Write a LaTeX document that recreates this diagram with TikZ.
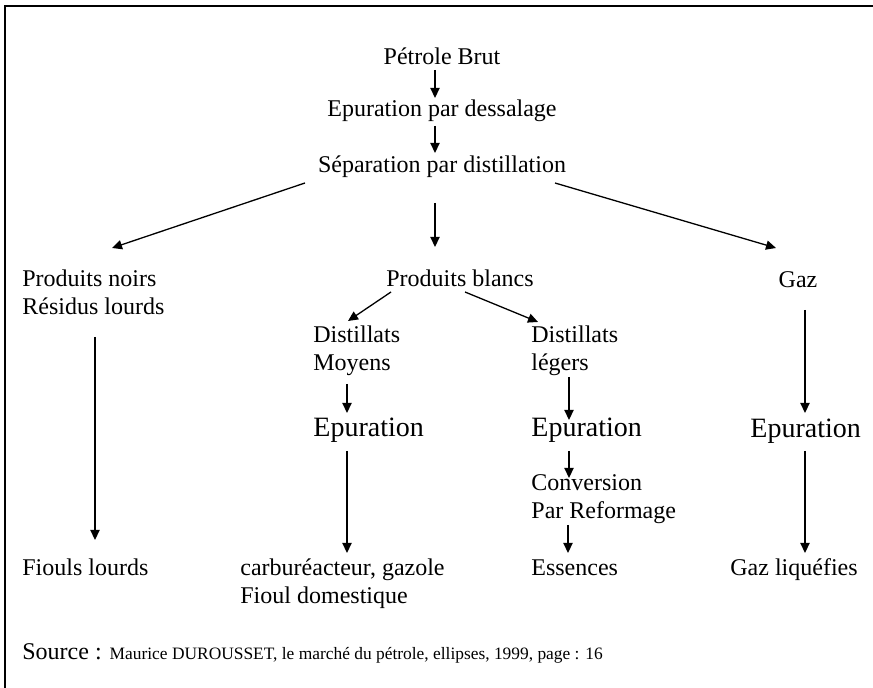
\documentclass[tikz,border=0pt]{standalone}
\usepackage{fontspec}
\setmainfont{Liberation Serif}
\usetikzlibrary{arrows.meta}

\newcommand{\normtxt}{\fontsize{12}{14}\selectfont}
\newcommand{\bigtxt}{\fontsize{14}{16}\selectfont}
\newcommand{\smalltxt}{\fontsize{8.7}{10}\selectfont}
\newcommand{\lines}[1]{\begin{tabular}[t]{@{}l@{}}#1\end{tabular}}

\begin{document}
\begin{tikzpicture}[
  x=0.5pt, y=-0.5pt,
  txt/.style={inner sep=0pt, font=\normtxt},
  big/.style={inner sep=0pt, font=\bigtxt},
  arr/.style={line width=0.65pt, -{Triangle[length=5pt,width=4.6pt]}}
]
\useasboundingbox (0,0) rectangle (873,688);
\begin{scope}
  \clip (0,0) rectangle (873,688);
  \draw[line width=0.8pt] (5,6) rectangle (900,720);
\end{scope}

% main chain
\node[txt, anchor=base] (brut)   at (442,65)  {Pétrole Brut};
\node[txt, anchor=base] (dessal) at (442,117) {Epuration par dessalage};
\node[txt, anchor=base] (sep)    at (442,173) {Séparation par distillation};

% three product families
\node[txt, anchor=base west] (noirs)  at (22,287)  {\lines{Produits noirs\\Résidus lourds}};
\node[txt, anchor=base]      (blancs) at (460,287) {Produits blancs};
\node[txt, anchor=base]      (gaz)    at (798,288) {Gaz};

% white products branch
\node[txt, anchor=base west] (dmoy) at (313,343) {\lines{Distillats\\Moyens}};
\node[txt, anchor=base west] (dleg) at (531,343) {\lines{Distillats\\légers}};

% purification steps
\node[big, anchor=base west] (epur1) at (313,437) {Epuration};
\node[big, anchor=base west] (epur2) at (531,437) {Epuration};
\node[big, anchor=base west] (epur3) at (750,438) {Epuration};

\node[txt, anchor=base west] (conv) at (531,491) {\lines{Conversion\\Par Reformage}};

% end products
\node[txt, anchor=base west] (fiouls) at (22,576)  {Fiouls lourds};
\node[txt, anchor=base west] (carbu)  at (240,576) {\lines{carburéacteur, gazole\\Fioul domestique}};
\node[txt, anchor=base west] (ess)    at (531,576) {Essences};
\node[txt, anchor=base west] (gazliq) at (730,576) {Gaz liquéfies};

% reference line
\node[txt, anchor=base west] (source) at (22,660) {Source : {\smalltxt Maurice DUROUSSET, le marché du pétrole, ellipses, 1999, page : 16}};

% connectors
\draw[arr] ([shift={(-7,5)}]brut.base)    -- ([shift={(-7,-19)}]dessal.base);
\draw[arr] ([shift={(-7,9)}]dessal.base)  -- ([shift={(-7,-20)}]sep.base);
\draw[arr] ([shift={(-7,30)}]sep.base)    -- ([shift={(-25,-40)}]blancs.base);
\draw[arr] ([shift={(-137,10)}]sep.base)  -- ([shift={(90,-39)}]noirs.base west);
\draw[arr] ([shift={(113,10)}]sep.base)   -- ([shift={(-22,-40)}]gaz.base);

\draw[arr] ([shift={(73,50)}]noirs.base west) -- ([shift={(73,-36)}]fiouls.base west);

\draw[arr] ([shift={(-69,5)}]blancs.base) -- ([shift={(35,-22)}]dmoy.base west);
\draw[arr] ([shift={(5,5)}]blancs.base)   -- ([shift={(7,-21)}]dleg.base west);

\draw[arr] ([shift={(34,41)}]dmoy.base west)  -- ([shift={(34,-24)}]epur1.base west);
\draw[arr] ([shift={(34,14)}]epur1.base west) -- ([shift={(107,-23)}]carbu.base west);

\draw[arr] ([shift={(38,34)}]dleg.base west)  -- ([shift={(38,-17)}]epur2.base west);
\draw[arr] ([shift={(38,14)}]epur2.base west) -- ([shift={(38,-13)}]conv.base west);
\draw[arr] ([shift={(37,34)}]conv.base west)  -- ([shift={(37,-23)}]ess.base west);

\draw[arr] ([shift={(7,22)}]gaz.base)          -- ([shift={(55,-25)}]epur3.base west);
\draw[arr] ([shift={(55,13)}]epur3.base west)  -- ([shift={(75,-23)}]gazliq.base west);
\end{tikzpicture}
\end{document}
